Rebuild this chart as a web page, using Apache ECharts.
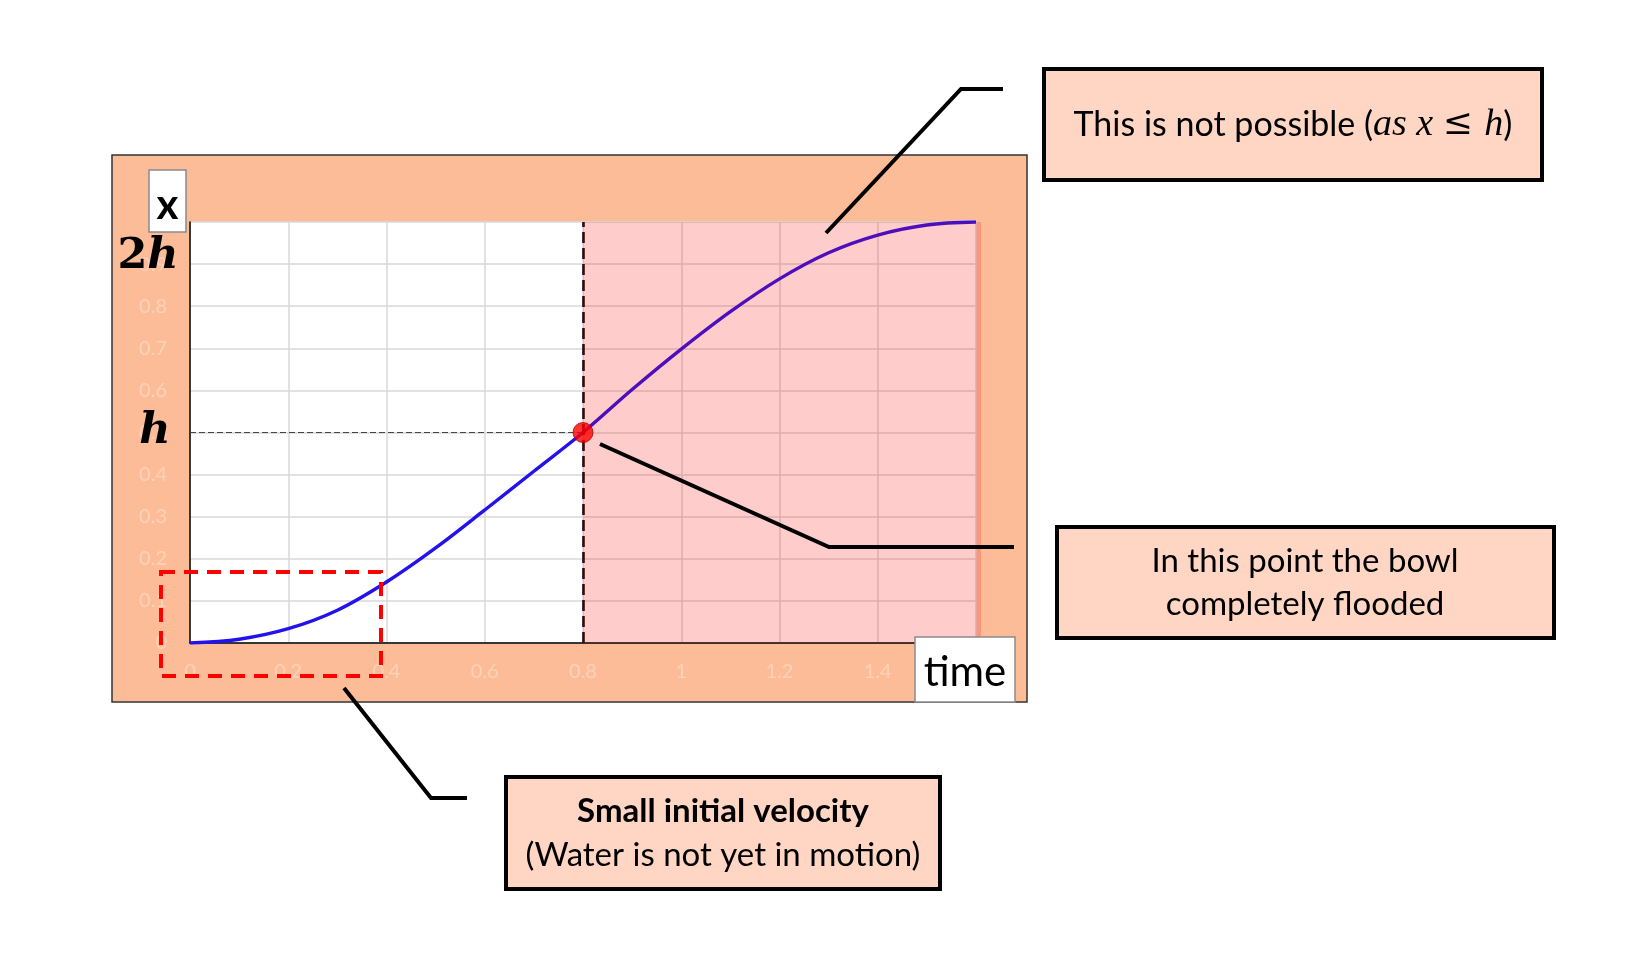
<!DOCTYPE html>
<html>
<head>
<meta charset="utf-8">
<script src="https://cdn.jsdelivr.net/npm/echarts@6/dist/echarts.min.js"></script>
<style>
html,body{margin:0;padding:0;background:#fff;}
#chart{width:1646px;height:968px;}
</style>
</head>
<body>
<div id="chart"></div>
<script>
// ---- data ----
const times   = [0, 0.1, 0.2, 0.3, 0.4, 0.5, 0.6, 0.7, 0.8, 0.9, 1.0, 1.1, 1.2, 1.3, 1.4, 1.5, 1.6];
const heights = [0, 0.009, 0.034, 0.078, 0.145, 0.226, 0.316, 0.408, 0.5, 0.602, 0.698, 0.787, 0.865, 0.927, 0.969, 0.993, 1.0];
const floodPoint = [0.8, 0.5];
const xTicks = {min: 0, max: 1.6, interval: 0.2};
const yTicks = {min: 0, max: 1, interval: 0.1};
const boxB = ['In this point the bowl', 'completely flooded'];
const boxC = ['Small initial velocity', '(Water is not yet in motion)'];

const ORANGE = '#fcbc98';
const BOXFILL = '#ffd6c4';
const SANS = 'Lato, "Noto Sans", sans-serif';
const SERIF = '"DejaVu Serif", serif';

const chart = echarts.init(document.getElementById('chart'));
const curve = times.map((t, i) => [t, heights[i]]);

const option = {
  backgroundColor: '#ffffff',
  animation: false,
  grid: {
    left: 190, top: 222, width: 786, height: 421,
    show: true, backgroundColor: '#ffffff', borderWidth: 0,
    outerBoundsMode: 'none', containLabel: false
  },
  xAxis: {
    type: 'value', min: xTicks.min, max: xTicks.max, interval: xTicks.interval,
    axisLine: {show: true, onZero: false, lineStyle: {color: '#000', width: 1.5}},
    axisTick: {show: false},
    axisLabel: {color: 'rgba(255,255,255,0.32)', fontFamily: SANS, fontSize: 20, margin: 19},
    splitLine: {show: true, lineStyle: {color: '#d9d9d9', width: 1.5}}
  },
  yAxis: {
    type: 'value', min: yTicks.min, max: yTicks.max, interval: yTicks.interval,
    axisLine: {show: true, onZero: false, lineStyle: {color: '#000', width: 1.5}},
    axisTick: {show: false},
    axisLabel: {color: 'rgba(255,255,255,0.32)', fontFamily: SANS, fontSize: 20, margin: 23},
    splitLine: {show: true, lineStyle: {color: '#d9d9d9', width: 1.5}}
  },
  series: [
    {
      type: 'line', data: curve, z: 2, smooth: 0.35,
      symbol: 'none', lineStyle: {color: '#2412ec', width: 3.4},
      markLine: {
        z: 3,
        silent: true, symbol: ['none', 'none'], label: {show: false},
        data: [
          [{coord: [xTicks.min, floodPoint[1]], lineStyle: {color: '#444', width: 1.2, type: [6, 3]}},
           {coord: [floodPoint[0], floodPoint[1]]}],
          [{coord: [floodPoint[0], yTicks.min], lineStyle: {color: '#1a0505', width: 2.6, type: [11, 5]}},
           {coord: [floodPoint[0], yTicks.max]}]
        ]
      }
    },
    {
      type: 'line', data: [floodPoint], z: 10, symbol: 'none', lineStyle: {opacity: 0},
      markArea: {
        z: 10,
        silent: true,
        itemStyle: {color: 'rgba(255,0,0,0.2)'},
        data: [[{coord: [floodPoint[0], yTicks.min]}, {coord: [xTicks.max, yTicks.max]}]]
      }
    },
    {
      type: 'scatter', data: [floodPoint], z: 30, symbolSize: 20,
      itemStyle: {color: '#ff0000', borderColor: '#b00000', borderWidth: 1}
    }
  ],
  graphic: [
    {type: 'rect', z: -10, shape: {x: 112, y: 155, width: 915, height: 547},
     style: {fill: ORANGE, stroke: '#333', lineWidth: 1.5}},
    {type: 'rect', z: 100, shape: {x: 976, y: 222, width: 5, height: 423},
     style: {fill: 'rgba(255,0,0,0.2)'}},
    {type: 'rect', z: 100, shape: {x: 149, y: 170, width: 37, height: 62},
     style: {fill: '#fff', stroke: '#8a8a8a', lineWidth: 1.5}},
    {type: 'text', z: 101, x: 167.5, y: 205,
     style: {text: 'x', font: 'bold 42px ' + SANS, fill: '#000', align: 'center', verticalAlign: 'middle'}},
    {type: 'text', z: 101, x: 148, y: 257,
     style: {text: '{d|2}{v|h}', align: 'center', verticalAlign: 'middle',
       rich: {d: {font: 'bold 43px ' + SERIF, fill: '#000'}, v: {font: 'italic bold 43px ' + SERIF, fill: '#000'}}}},
    {type: 'text', z: 101, x: 155, y: 432,
     style: {text: '{v|h}', align: 'center', verticalAlign: 'middle',
       rich: {v: {font: 'italic bold 43px ' + SERIF, fill: '#000'}}}},
    {type: 'rect', z: 100, shape: {x: 915, y: 637, width: 100, height: 65},
     style: {fill: '#fff', stroke: '#8a8a8a', lineWidth: 1.5}},
    {type: 'text', z: 101, x: 965, y: 672,
     style: {text: 'time', font: '42px ' + SANS, fill: '#000', align: 'center', verticalAlign: 'middle'}},
    {type: 'rect', z: 102, shape: {x: 161, y: 572, width: 220, height: 104},
     style: {fill: 'none', stroke: '#ff0000', lineWidth: 4, lineDash: [14, 9]}},
    {type: 'polyline', z: 102, shape: {points: [[826, 233], [961, 89], [1003, 89]]},
     style: {stroke: '#000', lineWidth: 4, fill: 'none'}},
    {type: 'polyline', z: 102, shape: {points: [[600, 444], [829, 547], [1014, 547]]},
     style: {stroke: '#000', lineWidth: 4, fill: 'none'}},
    {type: 'polyline', z: 102, shape: {points: [[344, 688], [431, 798], [467, 798]]},
     style: {stroke: '#000', lineWidth: 4, fill: 'none'}},
    {type: 'rect', z: 100, shape: {x: 1044, y: 69, width: 498, height: 111},
     style: {fill: BOXFILL, stroke: '#000', lineWidth: 4}},
    {type: 'text', z: 101, x: 1293, y: 125,
     style: {text: '{n|This is not possible (}{m|as x }{r|≤ }{m|h}{n|)}', align: 'center', verticalAlign: 'middle',
       rich: {n: {font: '34px ' + SANS, fill: '#000'},
              m: {font: 'italic 38px "Liberation Serif", serif', fill: '#000'},
              r: {font: '36px "DejaVu Serif", serif', fill: '#000'}}}},
    {type: 'rect', z: 100, shape: {x: 1057, y: 527, width: 497, height: 111},
     style: {fill: BOXFILL, stroke: '#000', lineWidth: 4}},
    {type: 'text', z: 101, x: 1305, y: 583,
     style: {text: boxB.join('\n'), font: '33px ' + SANS, lineHeight: 43, fill: '#000', align: 'center', verticalAlign: 'middle'}},
    {type: 'rect', z: 100, shape: {x: 506, y: 777, width: 434, height: 112},
     style: {fill: BOXFILL, stroke: '#000', lineWidth: 4}},
    {type: 'text', z: 101, x: 723, y: 833,
     style: {text: '{b|' + boxC[0] + '}\n{n|' + boxC[1] + '}', align: 'center', verticalAlign: 'middle',
       rich: {b: {font: 'bold 33px ' + SANS, fill: '#000', lineHeight: 44, align: 'center'},
              n: {font: '33px ' + SANS, fill: '#000', lineHeight: 44, align: 'center'}}}}
  ]
};
chart.setOption(option);
</script>
</body>
</html>
